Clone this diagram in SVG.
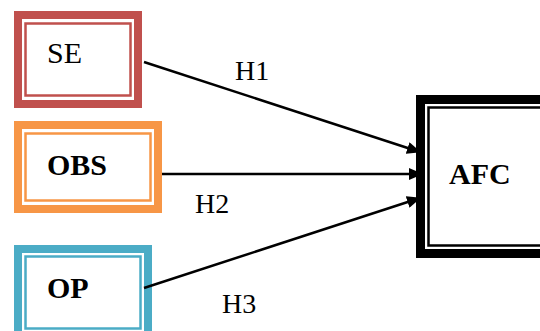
<svg xmlns="http://www.w3.org/2000/svg" width="540" height="331" viewBox="0 0 540 331">
<defs>
<marker id="arr" markerWidth="14" markerHeight="12" refX="13" refY="6" orient="auto" markerUnits="userSpaceOnUse">
<path d="M0,0 L14,6 L0,12 z" fill="#000"/>
</marker>
<style>
.lbl{font-family:"Liberation Serif","Times New Roman",serif;font-size:30px;fill:#000}
.b{font-weight:bold}
.h{font-family:"Liberation Serif","Times New Roman",serif;font-size:28px;fill:#000}
.conn{stroke:#000;stroke-width:2.5;fill:none;marker-end:url(#arr)}
</style>
</defs>
<rect width="540" height="331" fill="#fff"/>
<g id="SE">
<rect x="18" y="15" width="120" height="89" fill="#fff" stroke="#C0504D" stroke-width="8"/>
<rect x="25.5" y="23.5" width="105" height="72" fill="none" stroke="#C0504D" stroke-width="2.5"/>
<text class="lbl" x="47" y="63">SE</text>
</g>
<g id="OBS">
<rect x="18" y="125" width="140" height="84" fill="#fff" stroke="#F79646" stroke-width="8"/>
<rect x="25.5" y="133.5" width="125" height="67" fill="none" stroke="#F79646" stroke-width="2.5"/>
<text class="lbl b" x="47" y="175">OBS</text>
</g>
<g id="OP">
<rect x="18" y="249" width="130" height="90" fill="#fff" stroke="#4BACC6" stroke-width="8"/>
<rect x="25.5" y="256.5" width="115" height="72" fill="none" stroke="#4BACC6" stroke-width="2.5"/>
<text class="lbl b" x="47" y="298">OP</text>
</g>
<g id="AFC">
<rect x="420.5" y="99.5" width="130" height="154" fill="#fff" stroke="#000" stroke-width="9"/>
<rect x="428.5" y="107.5" width="120" height="138" fill="none" stroke="#000" stroke-width="2.5"/>
<text class="lbl b" x="449" y="184">AFC</text>
</g>
<g id="connectors">
<line class="conn" x1="144" y1="62" x2="420" y2="152"/>
<line class="conn" x1="162" y1="174" x2="422" y2="174"/>
<line class="conn" x1="144" y1="288" x2="420" y2="198"/>
<text class="h" x="235" y="80">H1</text>
<text class="h" x="195" y="213">H2</text>
<text class="h" x="222" y="313">H3</text>
</g>
</svg>
